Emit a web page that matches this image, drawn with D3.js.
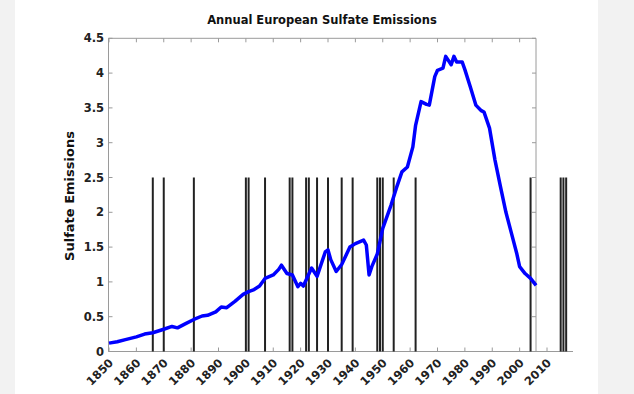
<!DOCTYPE html>
<html><head><meta charset="utf-8">
<script src="https://cdn.jsdelivr.net/npm/d3@7"></script>
<style>body{margin:0;background:#f2f2f2}svg{display:block}</style>
</head><body><svg id="c" width="634" height="394"></svg>
<script>
// Annual European sulfate emissions
const years = [1850,1853,1856,1860,1863,1866,1870,1873,1875,1878,1881,1884,1886,1889,1891,1893,1896,1899,1901,1903,1905,1907,1910,1912,1913,1915,1917,1919,1920,1921,1924,1926,1929,1930,1931,1933,1935,1938,1940,1943,1944,1945,1946,1948,1950,1953,1955,1957,1959,1961,1962,1964,1966,1967,1969,1970,1972,1973,1975,1976,1977,1979,1980,1982,1984,1986,1987,1989,1991,1993,1995,1997,1999,2000,2002,2004,2006];
const emissions = [0.12,0.14,0.17,0.21,0.25,0.27,0.32,0.36,0.34,0.40,0.46,0.51,0.52,0.57,0.64,0.63,0.72,0.82,0.86,0.89,0.94,1.05,1.10,1.18,1.24,1.12,1.10,0.93,0.98,0.94,1.20,1.08,1.43,1.46,1.32,1.15,1.25,1.50,1.55,1.60,1.53,1.10,1.22,1.40,1.77,2.10,2.35,2.58,2.65,2.94,3.25,3.59,3.55,3.54,3.95,4.04,4.07,4.24,4.12,4.24,4.16,4.16,4.05,3.80,3.54,3.46,3.44,3.21,2.75,2.37,2.00,1.70,1.40,1.22,1.12,1.05,0.95];
// event years marked with vertical bars
const eventYears = [1866,1870,1881,1900,1901,1907,1916,1917,1922,1923,1926,1930,1935,1939,1948,1949,1950,1954,1962,2004,2015,2016,2017];
const eventHeight = 2.5;
const xTickValues = [1850,1860,1870,1880,1890,1900,1910,1920,1930,1940,1950,1960,1970,1980,1990,2000,2010];
const yTickValues = [0,0.5,1,1.5,2,2.5,3,3.5,4,4.5];
const title = "Annual European Sulfate Emissions";
const yLabel = "Sulfate Emissions";

const svg = d3.select("#c");
const font = "'DejaVu Sans', sans-serif";
svg.append("rect").attr("x",15).attr("y",0).attr("width",583).attr("height",394).attr("fill","#fff");

const x = d3.scaleLinear().domain([1850,2010]).range([109,547]);
const y = d3.scaleLinear().domain([0,4.5]).range([351.5,38.3]);
const boxRight = 536, boxLeft = 108.5;
const axisCol = "#9a9a9a";

// frame
const g = svg.append("g");
g.append("line").attr("x1",boxLeft).attr("x2",boxLeft).attr("y1",y(4.5)).attr("y2",y(0)).attr("stroke",axisCol);
g.append("line").attr("x1",boxRight).attr("x2",boxRight).attr("y1",y(4.5)).attr("y2",y(0)).attr("stroke",axisCol);
g.append("line").attr("x1",boxLeft).attr("x2",boxRight).attr("y1",y(4.5)).attr("y2",y(4.5)).attr("stroke",axisCol);
g.append("line").attr("x1",boxLeft).attr("x2",573).attr("y1",y(0)).attr("y2",y(0)).attr("stroke",axisCol);

// y ticks left & right
yTickValues.forEach(v=>{
  g.append("line").attr("x1",boxLeft).attr("x2",boxLeft+4).attr("y1",y(v)).attr("y2",y(v)).attr("stroke",axisCol);
  g.append("line").attr("x1",boxRight-4).attr("x2",boxRight).attr("y1",y(v)).attr("y2",y(v)).attr("stroke",axisCol);
  g.append("text").attr("x",104).attr("y",y(v)+4).attr("text-anchor","end")
   .attr("font-family",font).attr("font-weight","bold").attr("font-size",11.5).attr("fill","#222").text(v);
});
// x ticks
xTickValues.forEach(v=>{
  g.append("line").attr("x1",x(v)).attr("x2",x(v)).attr("y1",y(0)).attr("y2",y(0)-4).attr("stroke",axisCol);
  if (x(v) < boxRight) g.append("line").attr("x1",x(v)).attr("x2",x(v)).attr("y1",y(4.5)).attr("y2",y(4.5)+4).attr("stroke",axisCol);
  g.append("text").attr("text-anchor","end")
   .attr("transform",`translate(${x(v)+5},${y(0)+12}) rotate(-45)`)
   .attr("font-family",font).attr("font-weight","bold").attr("font-size",11.5).attr("fill","#222").text(v);
});

// event bars
svg.append("g").selectAll("line").data(eventYears).join("line")
  .attr("x1",d=>x(d)).attr("x2",d=>x(d)).attr("y1",y(eventHeight)).attr("y2",y(0))
  .attr("stroke","#222").attr("stroke-width",2);

// emissions line
const data = years.map((yr,i)=>({yr, v:emissions[i]}));
svg.append("path").datum(data)
  .attr("d", d3.line().x(d=>x(d.yr)).y(d=>y(d.v)))
  .attr("fill","none").attr("stroke","#0000ff").attr("stroke-width",3.5).attr("stroke-linejoin","round");

// title & label
svg.append("text").attr("x",322).attr("y",24).attr("text-anchor","middle")
  .attr("font-family",font).attr("font-weight","bold").attr("font-size",11.5).attr("fill","#111").text(title);
svg.append("text").attr("transform","translate(74,196) rotate(-90)").attr("text-anchor","middle")
  .attr("font-family",font).attr("font-weight","bold").attr("font-size",13).attr("fill","#111").text(yLabel);
</script></body></html>
